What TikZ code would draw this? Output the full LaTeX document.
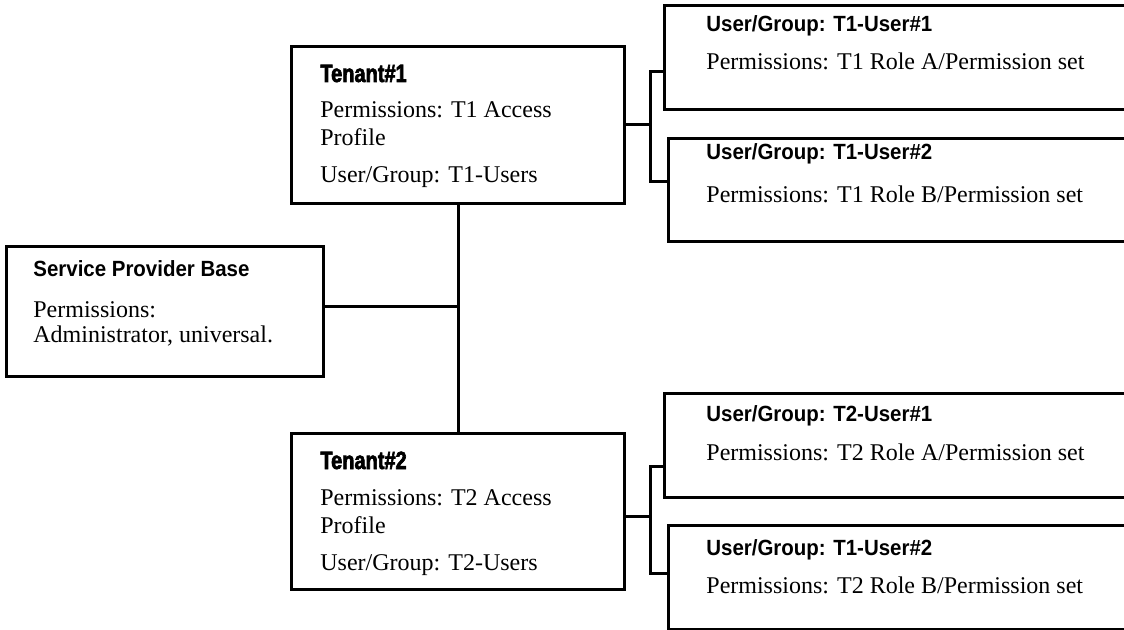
\documentclass[tikz,border=0pt]{standalone}
\usepackage{fontspec}
\setmainfont{Liberation Serif}
\newfontfamily\headfont[FakeStretch=0.93]{Liberation Sans}
\newfontfamily\tenantfont[FakeStretch=0.8,FakeBold=2.5]{Liberation Sans}
\usepackage{tikz}
\definecolor{boxline}{RGB}{0, 0, 0}

\begin{document}
\begin{tikzpicture}[x=0.5pt, y=-0.5pt,
    box/.style={draw=boxline, line width=1.5pt, rectangle, anchor=north west, inner sep=0pt},
    link/.style={draw=boxline, line width=1.5pt},
    head/.style={anchor=base west, inner sep=0pt, font=\headfont\bfseries\fontsize{11}{13}\selectfont},
    tenanthead/.style={anchor=base west, inner sep=0pt, font=\tenantfont\bfseries\fontsize{12.5}{14}\selectfont},
    body/.style={anchor=base west, inner sep=0pt, font=\fontsize{12}{14}\selectfont}]
    \useasboundingbox (0,0) rectangle (1124,630);

    %% boxes
    \node[box, minimum width=158.5pt, minimum height=65pt] (spb) at (5,245) {};
    \node[box, minimum width=166.5pt, minimum height=78.5pt] (t1) at (290,45) {};
    \node[box, minimum width=166.5pt, minimum height=78pt] (t2) at (290,432) {};
    \node[box, minimum width=245pt, minimum height=52pt] (u11) at (663,4) {};
    \node[box, minimum width=245pt, minimum height=51.5pt] (u12) at (667,137) {};
    \node[box, minimum width=245pt, minimum height=52pt] (u21) at (663,392) {};
    \node[box, minimum width=245pt, minimum height=52pt] (u22) at (667,524) {};

    %% service provider
    \node[head] (spbttl) at (33,277) {Service Provider Base};
    \node[body] (spbperm) at (33,318) {Permissions:};
    \node[body] (spbadm) at (33,343) {Administrator, universal.};

    %% tenants
    \node[tenanthead] (t1ttl) at (320,82) {Tenant\#1};
    \node[body] (t1perm) at (320,118) {Permissions: T1 Access};
    \node[body] (t1prof) at (320,146) {Profile};
    \node[body] (t1user) at (320,183) {User/Group: T1-Users};

    \node[tenanthead] (t2ttl) at (320,469) {Tenant\#2};
    \node[body] (t2perm) at (320,505) {Permissions: T2 Access};
    \node[body] (t2prof) at (320,533) {Profile};
    \node[body] (t2user) at (320,570) {User/Group: T2-Users};

    %% users
    \node[head] (u11ttl) at (706,32) {User/Group: T1-User\#1};
    \node[body] (u11perm) at (706,70) {Permissions: T1 Role A/Permission set};
    \node[head] (u12ttl) at (706,160) {User/Group: T1-User\#2};
    \node[body] (u12perm) at (706,203) {Permissions: T1 Role B/Permission set};
    \node[head] (u21ttl) at (706,422) {User/Group: T2-User\#1};
    \node[body] (u21perm) at (706,460) {Permissions: T2 Role A/Permission set};
    \node[head] (u22ttl) at (706,555) {User/Group: T1-User\#2};
    \node[body] (u22perm) at (706,593) {Permissions: T2 Role B/Permission set};

    %% connectors
    \draw[link] (t1.south) -- (t2.north);
    \draw[link] ([yshift=2.5pt]spb.east) -- ([yshift=2.5pt]spb.east -| t1.south);

    \draw[link] (t1.east) -- ++(24,0) coordinate (j1);
    \draw[link] ([yshift=-7pt]u11.west) -| (j1) |- ([yshift=4.25pt]u12.west);

    \draw[link] ([yshift=-2.5pt]t2.east) -- ++(24,0) coordinate (j2);
    \draw[link] ([yshift=-10.5pt]u21.west) -| (j2) |- ([yshift=2pt]u22.west);
\end{tikzpicture}
\end{document}
